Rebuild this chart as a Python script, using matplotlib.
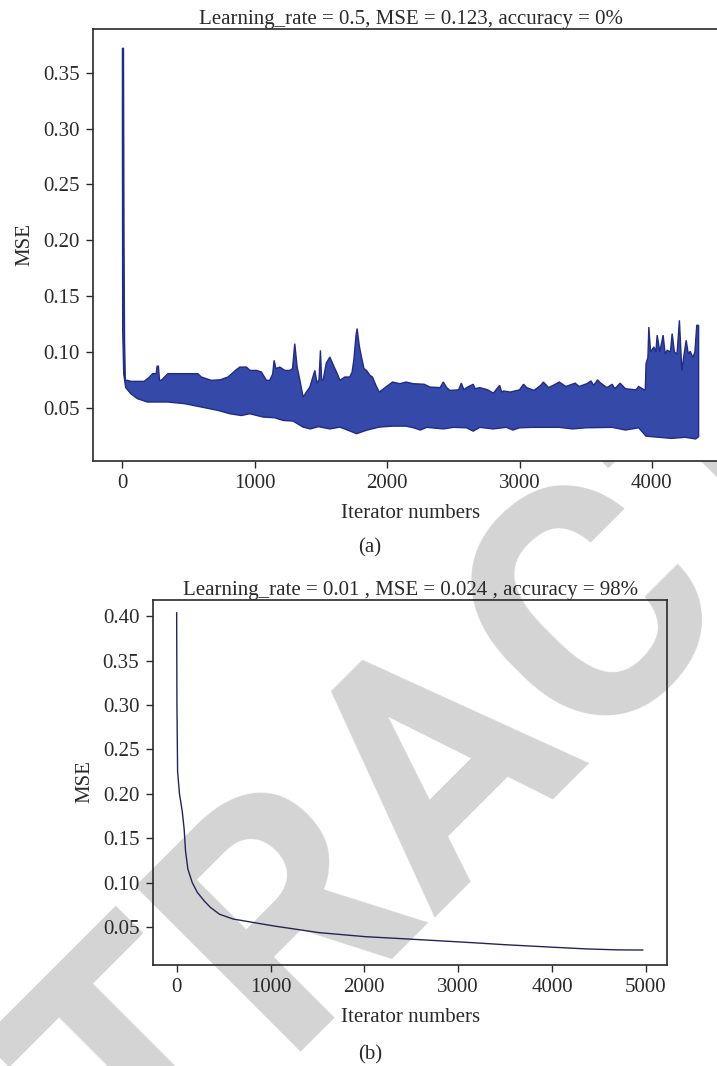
import matplotlib

matplotlib.use("Agg")
import matplotlib.pyplot as plt
import numpy as np

# ---- panel (a): learning rate 0.5, noisy band read as upper / lower envelopes
UPPER_ITER_A = [
    0, 8, 12, 16, 22, 40, 63, 164, 200, 229, 255, 262, 272, 280, 293, 344, 470, 570, 596, 672,
    738, 798, 860, 887, 937, 963, 1013, 1050, 1088, 1113, 1135, 1146, 1160, 1189, 1227, 1265,
    1285, 1302, 1320, 1340, 1365, 1390, 1416, 1440, 1454, 1470, 1485, 1496, 1505, 1516, 1540,
    1567, 1600, 1625, 1643, 1680, 1718, 1735, 1748, 1765, 1773, 1790, 1806, 1825, 1844, 1870,
    1889, 1915, 1940, 1990, 2041, 2096, 2142, 2197, 2280, 2323, 2400, 2424, 2450, 2474, 2540,
    2560, 2580, 2600, 2650, 2665, 2700, 2760, 2802, 2850, 2865, 2880, 2930, 3000, 3030, 3054,
    3110, 3160, 3180, 3220, 3280, 3300, 3350, 3420, 3450, 3510, 3540, 3560, 3590, 3608, 3660,
    3700, 3720, 3760, 3800, 3880, 3900, 3950, 3956, 3970, 3977, 3990, 4015, 4030, 4040, 4060,
    4085, 4100, 4115, 4140, 4153, 4170, 4190, 4208, 4226, 4240, 4259, 4275, 4289, 4310, 4325,
    4339, 4353,
]
UPPER_MSE_A = [
    0.372, 0.372, 0.200, 0.110, 0.0745, 0.0745, 0.0736, 0.0736, 0.077, 0.0805, 0.0805, 0.0872,
    0.0872, 0.0745, 0.0745, 0.0805, 0.0805, 0.0805, 0.0775, 0.0745, 0.075, 0.0775, 0.084, 0.0864,
    0.0864, 0.0834, 0.0834, 0.082, 0.0745, 0.0745, 0.080, 0.0924, 0.085, 0.0864, 0.0834, 0.0834,
    0.085, 0.1074, 0.0864, 0.075, 0.0595, 0.064, 0.0685, 0.078, 0.0834, 0.072, 0.075, 0.1014,
    0.075, 0.0745, 0.090, 0.0954, 0.0864, 0.080, 0.0745, 0.0775, 0.0775, 0.082, 0.0924, 0.115,
    0.1209, 0.105, 0.0954, 0.085, 0.0834, 0.079, 0.0775, 0.070, 0.064, 0.0685, 0.073, 0.0715,
    0.073, 0.0715, 0.071, 0.0685, 0.068, 0.073, 0.068, 0.0655, 0.066,
    0.072, 0.066, 0.068, 0.071, 0.067, 0.068, 0.066, 0.063, 0.070, 0.064, 0.065, 0.064, 0.066,
    0.071, 0.068, 0.0655, 0.070, 0.073, 0.068, 0.0716, 0.073, 0.069, 0.072, 0.069, 0.0716,
    0.074, 0.070, 0.075, 0.0725, 0.068, 0.071, 0.067, 0.072, 0.067, 0.066, 0.069, 0.0655,
    0.0895, 0.095, 0.1223, 0.100, 0.1044, 0.100, 0.115, 0.100, 0.115, 0.098, 0.1014, 0.100,
    0.1164, 0.100, 0.098, 0.1283, 0.0834, 0.095, 0.1104, 0.098, 0.1005, 0.095, 0.100, 0.1238,
    0.1238,
]
LOWER_ITER_A = [
    0, 2, 10, 25, 63, 113, 189, 344, 470, 596, 722, 811, 899, 962, 1063, 1150, 1214, 1290, 1365,
    1420, 1480, 1567, 1643, 1700, 1769, 1800, 1850, 1940, 2041, 2142, 2200, 2250, 2300, 2424,
    2500, 2600, 2650, 2700, 2800, 2900, 2950, 3000, 3100, 3300, 3400, 3500, 3700, 3800, 3900,
    3956, 4050, 4150, 4250, 4330, 4353,
]
LOWER_MSE_A = [
    0.300, 0.120, 0.080, 0.068, 0.0626, 0.0581, 0.0551, 0.0551, 0.0536, 0.0506, 0.0476, 0.0446,
    0.0430, 0.0446, 0.0416, 0.0410, 0.0386, 0.038, 0.0326, 0.031, 0.033, 0.031, 0.0326, 0.030,
    0.0267, 0.028, 0.030, 0.0326, 0.0335, 0.0335, 0.032, 0.030, 0.0324, 0.031, 0.0324, 0.032,
    0.029, 0.0324, 0.031, 0.0324, 0.030, 0.032, 0.0324, 0.0324, 0.031, 0.032, 0.0324, 0.030,
    0.032, 0.0245, 0.0235, 0.0225, 0.0235, 0.022, 0.024,
]

# ---- panel (b): learning rate 0.01, smooth curve
ITER_B = [0, 3, 10, 30, 60, 80, 95, 120, 166, 220, 294, 360, 457, 600, 824, 1043, 1518, 2018,
          2335, 2700, 3151, 3500, 3967, 4376, 4700, 4967]
MSE_B = [0.404, 0.300, 0.225, 0.200, 0.180, 0.160, 0.135, 0.115, 0.100, 0.089, 0.0793, 0.072,
         0.0643, 0.059, 0.0549, 0.051, 0.0436, 0.039, 0.0372, 0.035, 0.0323, 0.030, 0.0274,
         0.0252, 0.0242, 0.024]

TITLE_A = "Learning_rate = 0.5, MSE = 0.123, accuracy = 0%"
TITLE_B = "Learning_rate = 0.01 , MSE = 0.024 , accuracy = 98%"
YTICKS_A = [0.05, 0.10, 0.15, 0.20, 0.25, 0.30, 0.35]
YTICKS_B = [0.05, 0.10, 0.15, 0.20, 0.25, 0.30, 0.35, 0.40]
XTICKS_A = [0, 1000, 2000, 3000, 4000]
XTICKS_B = [0, 1000, 2000, 3000, 4000, 5000]

W, H = 717, 1066
SERIF = ["Liberation Serif", "DejaVu Serif"]
plt.rcParams["font.family"] = SERIF
plt.rcParams["font.size"] = 15
INK = "#2a2a2a"


def box(left, top, right, bottom):
    return [left / W, 1 - bottom / H, (right - left) / W, (bottom - top) / H]


def style_axis(axis, xticks, yticks):
    for spine in axis.spines.values():
        spine.set_color(INK)
        spine.set_linewidth(1.2)
    axis.set_xticks(xticks)
    axis.set_yticks(yticks)
    axis.set_yticklabels([f"{v:.2f}" for v in yticks])
    axis.tick_params(direction="out", length=5, width=1, color=INK, labelcolor=INK,
                     labelsize=15, pad=5)
    axis.set_xlabel("Iterator numbers", color=INK, fontsize=15, labelpad=8)
    axis.set_ylabel("MSE", color=INK, fontsize=15, labelpad=6)


fig = plt.figure(figsize=(W / 100, H / 100), dpi=100)

# watermark sits behind everything; panel (a) has an opaque background
fig.text(510 / W, 1 - 822 / H, "RETRACTED", rotation=45, rotation_mode="anchor",
         ha="center", va="baseline", fontsize=236, fontweight="bold",
         family=["Roboto", "Liberation Sans"], color="#d4d4d4", zorder=-5)

ax_a = fig.add_axes(box(93.3, 29.3, 728, 460.5))
ax_a.set_facecolor("white")
poly_x = np.r_[UPPER_ITER_A, LOWER_ITER_A[::-1]]
poly_y = np.r_[UPPER_MSE_A, LOWER_MSE_A[::-1]]
ax_a.fill(poly_x, poly_y, facecolor="#3549a9", edgecolor="#202c86", linewidth=1.0)
ax_a.set_xlim(-220, 4575)
ax_a.set_ylim(0.0027, 0.389)
style_axis(ax_a, XTICKS_A, YTICKS_A)
ax_a.set_title(TITLE_A, color=INK, fontsize=15, pad=3)

ax_b = fig.add_axes(box(153.2, 599.5, 667, 964.5))
ax_b.patch.set_alpha(0)
ax_b.plot(ITER_B, MSE_B, color="#24245c", linewidth=1.0)
ax_b.set_xlim(-250, 5225)
ax_b.set_ylim(0.0077, 0.419)
style_axis(ax_b, XTICKS_B, YTICKS_B)
ax_b.set_title(TITLE_B, color=INK, fontsize=15, pad=3)

fig.text(370 / W, 1 - 548 / H, "(a)", ha="center", va="center", color=INK, fontsize=15)
fig.text(370 / W, 1 - 1055 / H, "(b)", ha="center", va="center", color=INK, fontsize=15)

fig.savefig("out.png", dpi=100)
